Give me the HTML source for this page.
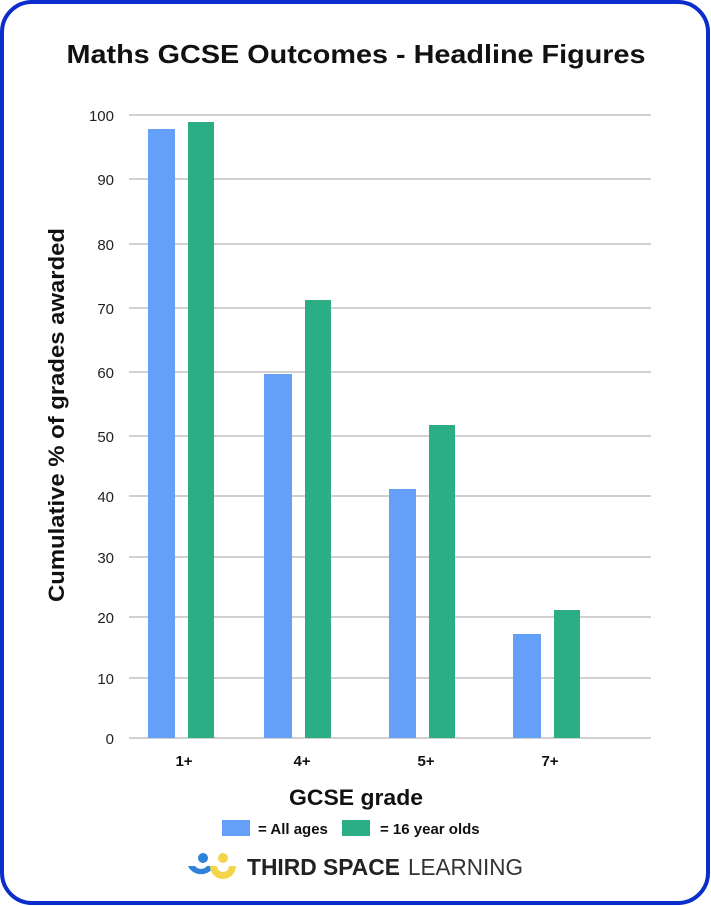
<!DOCTYPE html>
<html><head><meta charset="utf-8"><style>
html,body{margin:0;padding:0;background:#fff;}
svg{display:block;font-family:"Liberation Sans",sans-serif;}
</style></head><body>
<svg width="711" height="906" viewBox="0 0 711 906" xmlns="http://www.w3.org/2000/svg">
<rect x="2" y="2" width="706" height="901" rx="30" ry="30" fill="#fff" stroke="#0a2dcc" stroke-width="4"/>
<text x="356" y="63" text-anchor="middle" font-size="26" font-weight="bold" fill="#111" textLength="579" lengthAdjust="spacingAndGlyphs">Maths GCSE Outcomes - Headline Figures</text>
<g stroke="#b4b4b4" stroke-width="1.3">
<line x1="129" x2="651" y1="115" y2="115"/>
<line x1="129" x2="651" y1="179" y2="179"/>
<line x1="129" x2="651" y1="244" y2="244"/>
<line x1="129" x2="651" y1="308" y2="308"/>
<line x1="129" x2="651" y1="372" y2="372"/>
<line x1="129" x2="651" y1="436" y2="436"/>
<line x1="129" x2="651" y1="496" y2="496"/>
<line x1="129" x2="651" y1="557" y2="557"/>
<line x1="129" x2="651" y1="617" y2="617"/>
<line x1="129" x2="651" y1="678" y2="678"/>
<line x1="129" x2="651" y1="738" y2="738"/>
</g>
<g font-size="15" fill="#222" text-anchor="end">
<text x="114" y="121">100</text>
<text x="114" y="185">90</text>
<text x="114" y="250">80</text>
<text x="114" y="314">70</text>
<text x="114" y="378">60</text>
<text x="114" y="442">50</text>
<text x="114" y="502">40</text>
<text x="114" y="563">30</text>
<text x="114" y="623">20</text>
<text x="114" y="684">10</text>
<text x="114" y="744">0</text>
</g>
<g fill="#64a0fa">
<rect x="148" y="129" width="27" height="609"/>
<rect x="264" y="374" width="28" height="364"/>
<rect x="389" y="489" width="27" height="249"/>
<rect x="513" y="634" width="28" height="104"/>
</g>
<g fill="#2bae86">
<rect x="188" y="122" width="26" height="616"/>
<rect x="305" y="300" width="26" height="438"/>
<rect x="429" y="425" width="26" height="313"/>
<rect x="554" y="610" width="26" height="128"/>
</g>
<g font-size="15" font-weight="bold" fill="#111" text-anchor="middle">
<text x="184" y="766">1+</text>
<text x="302" y="766">4+</text>
<text x="426" y="766">5+</text>
<text x="550" y="766">7+</text>
</g>
<text x="356" y="805" text-anchor="middle" font-size="22" font-weight="bold" fill="#111" textLength="134" lengthAdjust="spacingAndGlyphs">GCSE grade</text>
<text transform="translate(64,415) rotate(-90)" text-anchor="middle" font-size="22" font-weight="bold" fill="#111" textLength="374" lengthAdjust="spacingAndGlyphs">Cumulative % of grades awarded</text>
<rect x="222" y="820" width="28" height="16" fill="#64a0fa"/>
<text x="258" y="834" font-size="15" font-weight="bold" fill="#111">= All ages</text>
<rect x="342" y="820" width="28" height="16" fill="#2bae86"/>
<text x="380" y="834" font-size="15" font-weight="bold" fill="#111">= 16 year olds</text>
<circle cx="203" cy="858" r="5" fill="#2e82d8"/>
<circle cx="223" cy="858" r="5" fill="#f2d54a"/>
<path d="M188 866 A14 13 0 0 0 214 866 L207 866 A7 6 0 0 1 195 866 Z" fill="#2e82d8"/>
<path d="M210 866 A13 13 0 0 0 236 866 L229 866 A6 6 0 0 1 217 866 Z" fill="#f2d54a"/>
<text x="247" y="875" font-size="23" font-weight="bold" fill="#222" textLength="153" lengthAdjust="spacingAndGlyphs">THIRD SPACE</text>
<text x="408" y="875" font-size="23" fill="#333" textLength="115" lengthAdjust="spacingAndGlyphs">LEARNING</text>
</svg>
</body></html>
